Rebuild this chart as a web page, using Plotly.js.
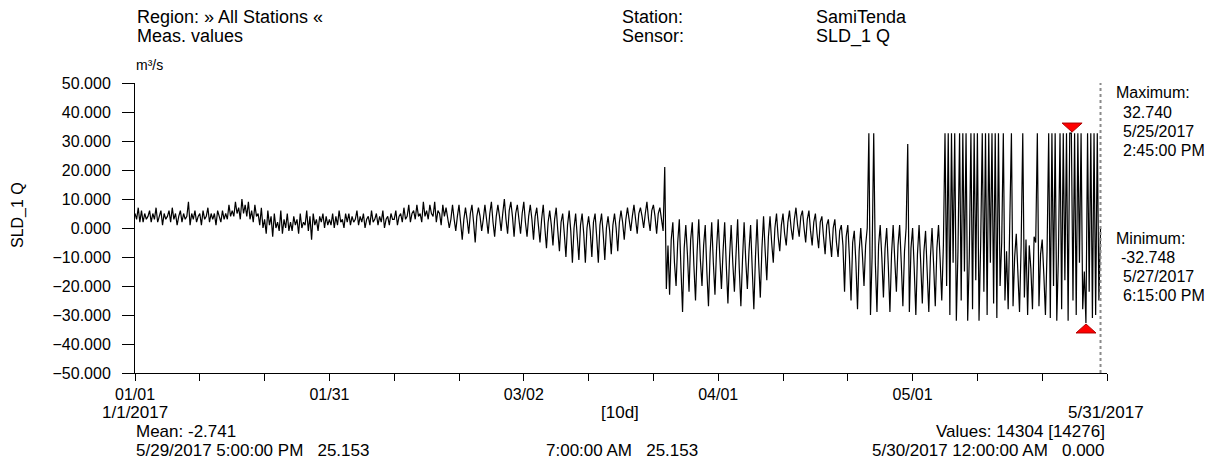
<!DOCTYPE html>
<html>
<head>
<meta charset="utf-8">
<script src="https://cdn.plot.ly/plotly-3.0.1.min.js"></script>
<style>
html,body{margin:0;padding:0;background:#fff;}
#chart{width:1221px;height:463px;}
</style>
</head>
<body>
<div id="chart"></div>
<script>
// ---- Data (6-hour steps) ----
const seriesStart = '2017-01-01 00:00';
const stepHours = 6;
const jan = [5,3,7,2, 6,2,5,3, 4,6,2,5, 3,7,2,4, 6,1,5,3, 4,6,2,7, 3,5,1,4, 6,2,5,3, 4,9,1,5, 3,6,2,4,
  5,1,6,3, 4,7,2,5, 3,5,1,6, 4,2,6,3, 5,3,8,4, 6,4,9,5, 7,3,10,5, 8,4,9,3, 6,2,8,4, 5,1,7,0,
  3,-2,6,1, 4,-3,5,0, 2,-1,6,-2, 3,0,5,-1, 2,-1,4,1, 3,-2,5,0, 2,1,6,-1, 4,-4,5,1, 3,-1,4,2, 5,0,4,1, 3,1,5,0];
const feb = [4,1,6,2, 3,0,5,2, 5,1,4,2, 3,6,1,4, 2,5,0,3, 4,1,6,2, 3,5,1,4, 2,6,0,3, 4,1,5,3, 3,6,1,4,
  5,2,7,3, 4,8,2,5, 6,3,8,4, 5,2,9,4, 6,3,8,5, 4,9,2,6, 5,1,8,4, 7,4,0,3, 8,3,-1,4, 8,2,-4,3,
  7,3,-2,5, 8,2,-5,4, 7,4,-1,3, 8,3,-2,5, 9,2,-3,4, 8,4,-1,5, 10,3,-2,6, 9,4,-3,5];
const mar = [8,3,-2,5, 9,2,-3,4, 8,3,-4,4, 7,1,-5,3, 8,0,-7,2, 6,1,-6,3, 7,-1,-8,2, 5,-2,-10,1, 6,-1,-12,0, 5,-3,-11,1,
  5,-2,-12,0, 4,-1,-10,2, 5,-3,-12,1, 5,-2,-11,0, 4,-1,-9,1, 5,0,-8,2, 6,2,-4,3, 7,3,-1,4, 8,3,-2,5, 7,4,0,5,
  9,3,-1,6, 8,4,-2,5, 7,3,-1,21, -21,-6,-23,-4, 2,-12,-20,-5, 3,-14,-29,-7, 1,-9,-22,-4, 2,-13,-25,-8, 3,-11,-20,-6, 1,-15,-27,-9,
  2,-12,-23,-7];
const apr = [3,-10,-21,-8, 2,-13,-26,-10, 1,-12,-22,-9, 3,-14,-27,-11, 2,-11,-21,-8, 1,-14,-28,-10, 3,-12,-24,-7, 4,-8,-18,-3, 4,-5,-12,0, 5,-3,-8,1,
  5,-2,-6,2, 6,0,-4,3, 7,1,-3,4, 6,0,-5,3, 6,-1,-6,2, 5,-2,-7,2, 4,-3,-9,1, 3,-4,-10,0, 3,-5,-10,-1, 1,-6,-22,-3,
  1,-10,-25,-5, -1,-12,-28,-8, 0,-9,-20,-6, 0,32.7,-30,-10, 32.7,-12,-29,-6, 1,-10,-24,-7, 0,-13,-29,-9, 1,-11,-22,-6, 1,-12,-27,-8, 0,29,-29,-7];
const may = [0,-14,-30,-9, 1,-12,-26,-8, -1,-15,-29,-10, 0,-13,-27,-7, 1,-11,-25,-6,
  32.7,-20,32.7,-30, 32.7,-12,32.7,-32, -8,32.7,-25,32.7, -15,32.7,-32,-10, 32.7,-28,32.7,-18,
  32.7,-32,-6,32.7, -22,32.7,-30,32.7, -12,32.7,-26,32.7, -31,32.7,-20,-5, 32.7,-25,-8,-28,
  -3,32.7,-27,-10, -2,-15,-29,-6, 32.7,-24,-4,-30, -6,-14,-28,-3, -5,32.7,-27,-9,
  -4,-16,-30,-8, 32.7,-31,32.7,-20, 32.7,-32,-10,32.7, -28,32.7,-18,32.7, -32,32.7,32.74,-25,
  32.7,-30,32.7,-12, 32.7,-28,-15,-32.748, 32.7,-22,32.7,-31, 32.7,-30,32.7,-25, 0];

const maxPoint = {t: '2017-05-25 14:45', v: 32.740};
const minPoint = {t: '2017-05-27 18:15', v: -32.748};
const cursorTime = '2017-05-30 00:00';

const xTickVals = ['2017-01-01','2017-01-11','2017-01-21','2017-01-31','2017-02-10','2017-02-20','2017-03-02','2017-03-12',
  '2017-03-22','2017-04-01','2017-04-11','2017-04-21','2017-05-01','2017-05-11','2017-05-21','2017-05-31'];
const xTickText = ['01/01','','','01/31','','','03/02','','','04/01','','','05/01','','',''];

const values = jan.concat(feb, mar, apr, may);

// ---- Layout helpers (pixel -> paper) ----
const L = 135, R = 1107, T = 83, B = 373;
const px = x => (x - L) / (R - L);
const py = y => (B - y) / (B - T);
const FONT = 'Liberation Sans, Arial, sans-serif';

function ann(text, x, y, xa, size, opts) {
  return Object.assign({text: text, xref: 'paper', yref: 'paper', x: px(x), y: py(y),
    xanchor: xa || 'left', yanchor: 'middle', showarrow: false,
    font: {family: FONT, size: size || 16, color: '#000'}}, opts || {});
}

const annotations = [
  ann('Region: » All Stations «', 135, 17, 'left', 18),
  ann('Meas. values', 135, 36, 'left', 18),
  ann('Station:', 620, 17, 'left', 18),
  ann('Sensor:', 620, 36, 'left', 18),
  ann('SamiTenda', 814, 17, 'left', 18),
  ann('SLD_1 Q', 814, 36, 'left', 18),
  ann('m³/s', 134, 65, 'left', 14),
  ann('SLD_1 Q', 18, 215, 'center', 16, {textangle: -90}),
  ann('1/1/2017', 135, 412, 'center', 17),
  ann('[10d]', 620, 412, 'center', 17),
  ann('5/31/2017', 1106, 412, 'center', 17),
  ann('Mean: -2.741', 134, 431, 'left', 17),
  ann('5/29/2017 5:00:00 PM&nbsp;&nbsp;&nbsp;25.153', 134, 450, 'left', 17),
  ann('7:00:00 AM&nbsp;&nbsp;&nbsp;25.153', 544, 450, 'left', 17),
  ann('Values: 14304 [14276]', 1107, 431, 'right', 17),
  ann('5/30/2017 12:00:00 AM&nbsp;&nbsp;&nbsp;0.000', 1107, 450, 'right', 17),
  ann('Maximum:', 1114, 93),
  ann('32.740', 1121, 112),
  ann('5/25/2017', 1121, 131),
  ann('2:45:00 PM', 1121, 150),
  ann('Minimum:', 1114, 238),
  ann('-32.748', 1119, 257),
  ann('5/27/2017', 1121, 276),
  ann('6:15:00 PM', 1121, 295)
];

const traces = [
  {type: 'scatter', mode: 'lines', x0: seriesStart, dx: stepHours * 3600 * 1000, y: values,
   line: {color: '#000', width: 1.2}, hoverinfo: 'skip'},
  {type: 'scatter', mode: 'markers', x: [cursorTime], y: [51.8], cliponaxis: false,
   marker: {symbol: 'square', size: 8, color: '#0000ff', line: {color: '#00c000', width: 1}}}
];

const layout = {
  width: 1221, height: 463,
  margin: {l: L, r: 1221 - R, t: T, b: 463 - B, pad: 0},
  paper_bgcolor: '#fff', plot_bgcolor: '#fff',
  showlegend: false,
  font: {family: FONT, size: 16, color: '#000'},
  xaxis: {
    type: 'date', range: ['2017-01-01', '2017-05-31'],
    tickmode: 'array', tickvals: xTickVals, ticktext: xTickText,
    ticks: 'outside', ticklen: 7, tickcolor: '#000', tickwidth: 1,
    showline: true, linecolor: '#000', linewidth: 1,
    showgrid: false, zeroline: false,
    tickfont: {family: FONT, size: 16, color: '#000'}
  },
  yaxis: {
    range: [-50, 50], dtick: 10, tick0: 0, tickformat: '.3f',
    ticks: 'outside', ticklen: 12, tickcolor: '#000', tickwidth: 1,
    ticklabelstandoff: 8,
    showline: true, linecolor: '#000', linewidth: 1,
    showgrid: false, zeroline: false,
    tickfont: {family: FONT, size: 16, color: '#000'}
  },
  shapes: [
    {type: 'line', xref: 'x', yref: 'y', x0: cursorTime, x1: cursorTime, y0: -50, y1: 51,
     line: {color: '#8a8a8a', width: 2, dash: 'dot'}},
    {type: 'path', xref: 'x', yref: 'y', xsizemode: 'pixel', ysizemode: 'pixel',
     xanchor: maxPoint.t, yanchor: maxPoint.v, path: 'M-10,10 L10,10 L0,1 Z',
     fillcolor: '#ff0000', line: {color: '#b00000', width: 1}, layer: 'above'},
    {type: 'path', xref: 'x', yref: 'y', xsizemode: 'pixel', ysizemode: 'pixel',
     xanchor: minPoint.t, yanchor: minPoint.v, path: 'M-10,-10 L10,-10 L0,-1 Z',
     fillcolor: '#ff0000', line: {color: '#b00000', width: 1}, layer: 'above'}
  ],
  annotations: annotations
};

Plotly.newPlot('chart', traces, layout, {staticPlot: true, displayModeBar: false});
</script>
</body>
</html>
